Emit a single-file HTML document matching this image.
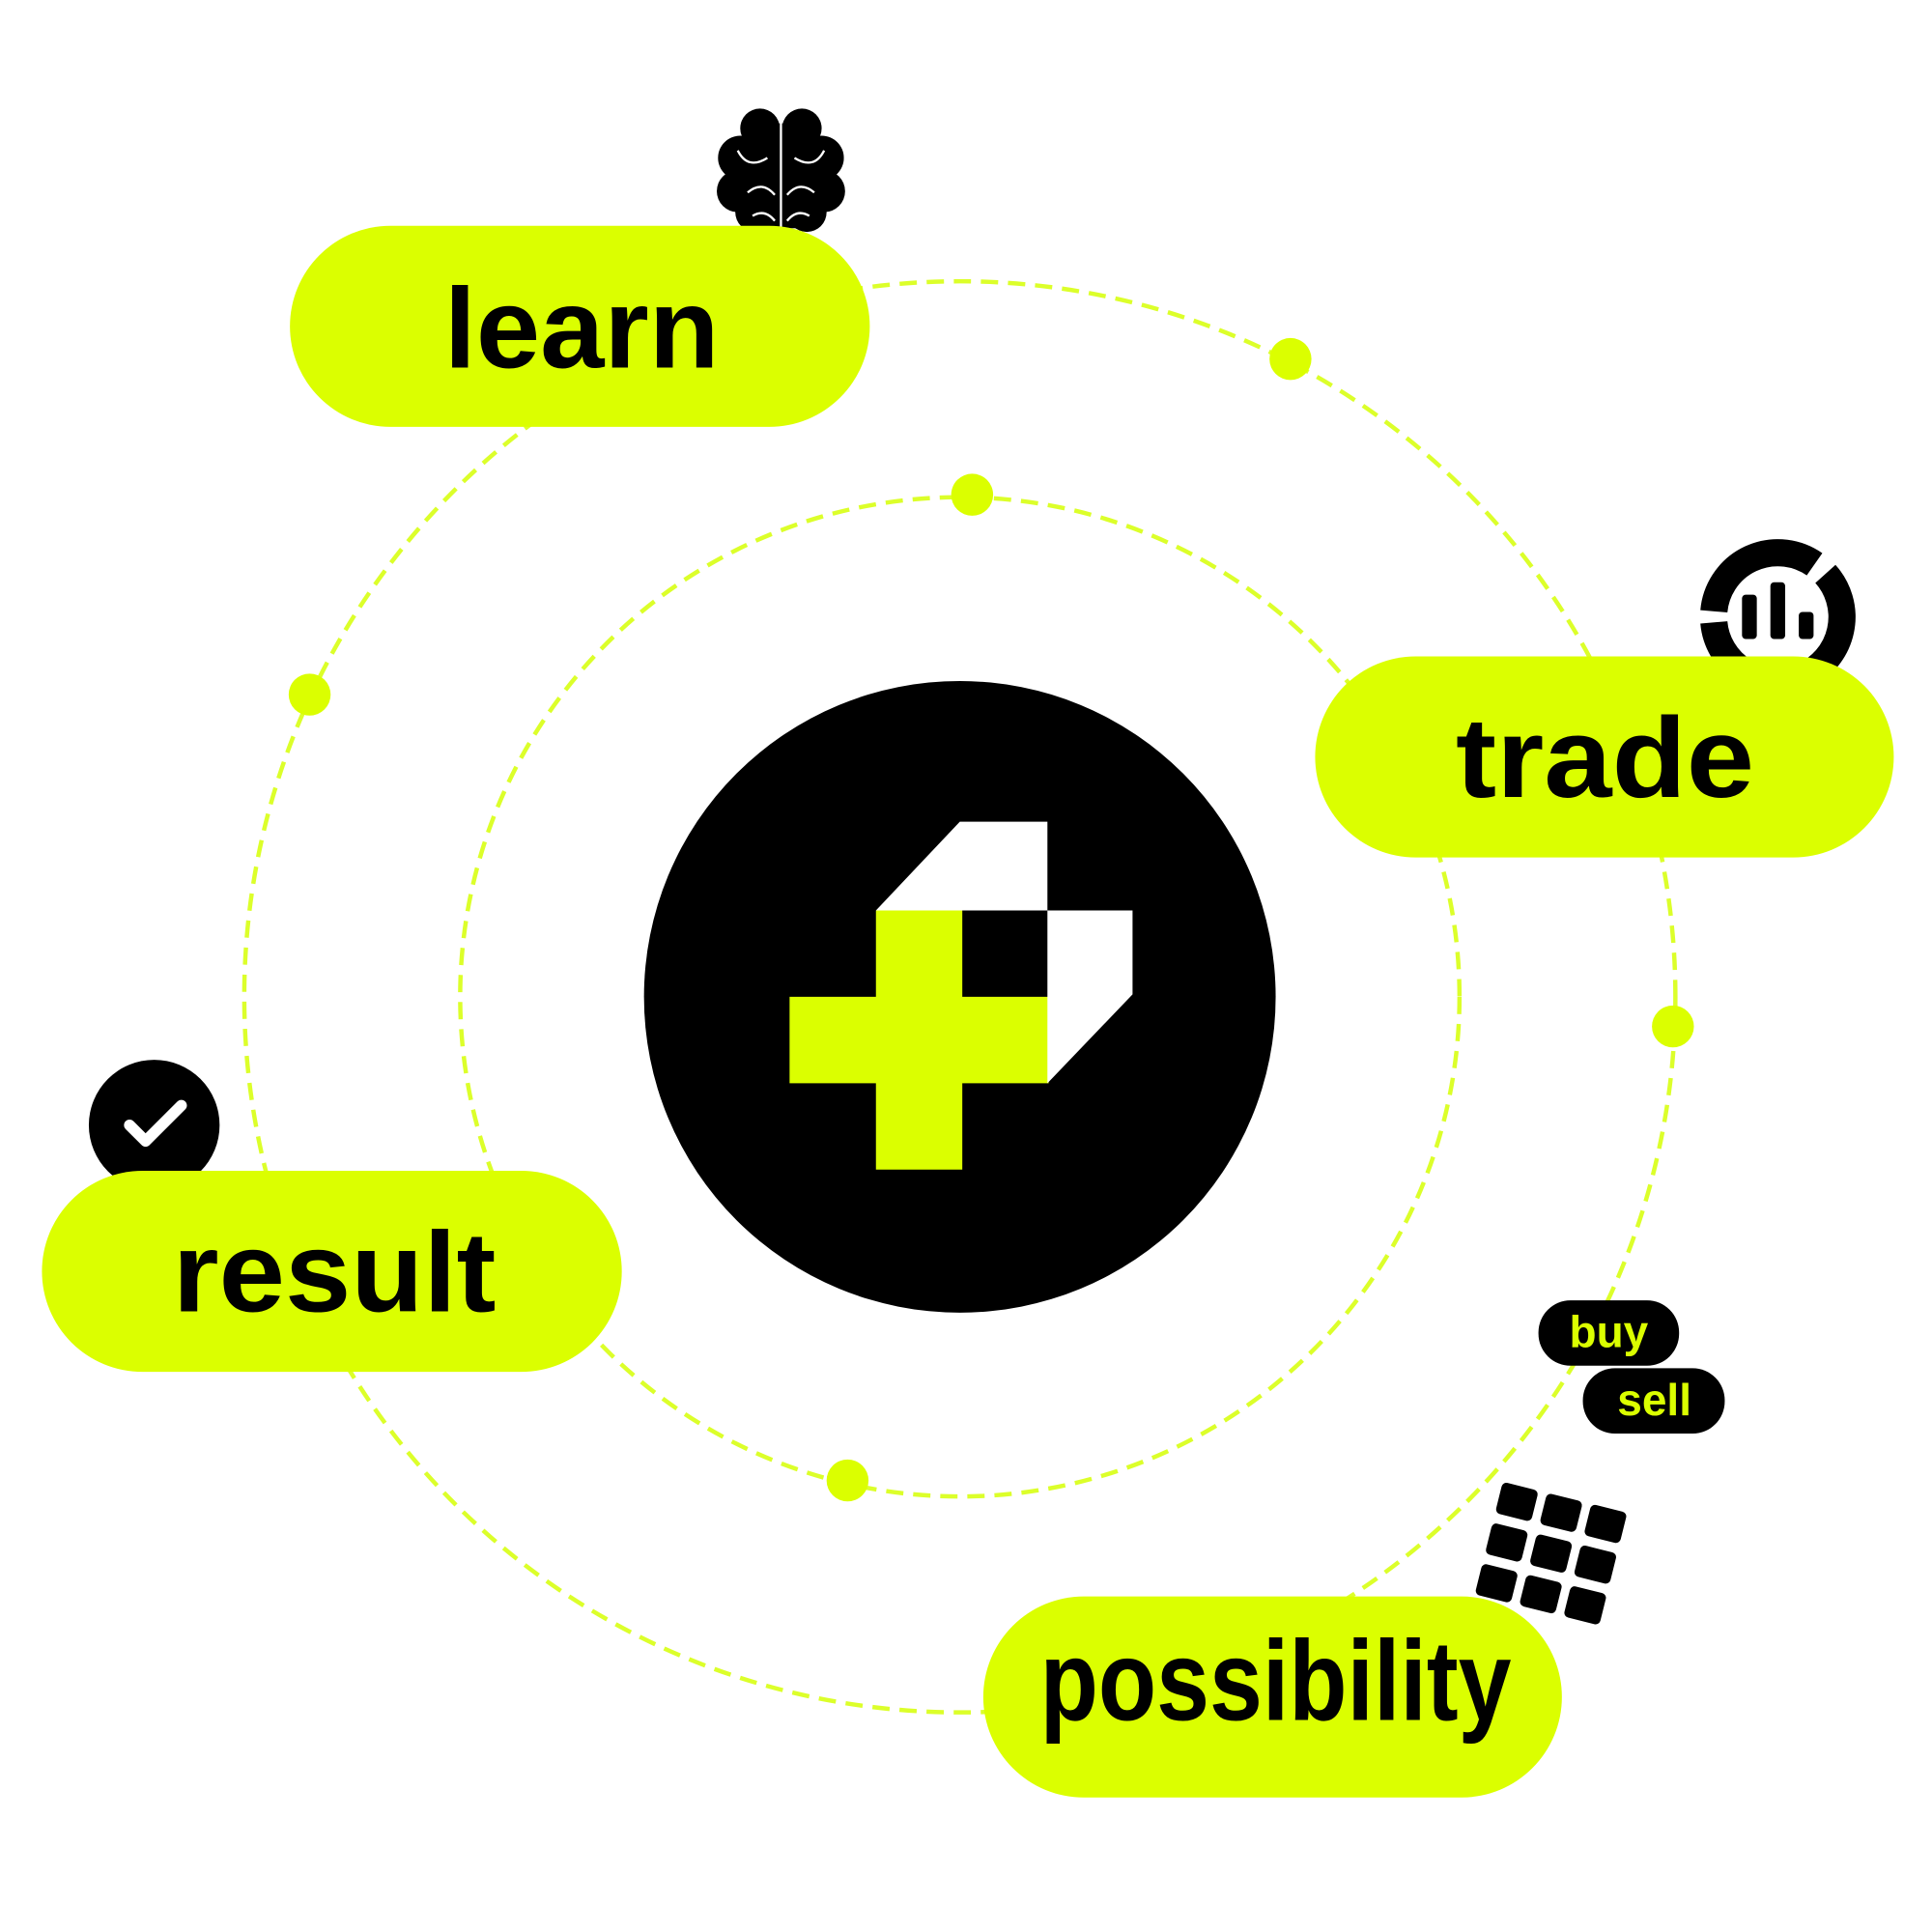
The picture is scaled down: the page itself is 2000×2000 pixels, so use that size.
<!DOCTYPE html>
<html><head><meta charset="utf-8"><style>html,body{margin:0;padding:0;background:#fff}svg{display:block}</style></head>
<body>
<svg width="2000" height="2000" viewBox="0 0 1566 1566" xmlns="http://www.w3.org/2000/svg">
<g fill="none" stroke="#dcff2a" stroke-width="3.5" stroke-dasharray="14 8">
<circle cx="778" cy="808" r="580"/>
<circle cx="778" cy="808" r="405"/>
</g>
<g fill="#dbff00">
<circle cx="1046" cy="291" r="17"/><circle cx="251" cy="563" r="17"/><circle cx="1356" cy="832" r="17"/>
<circle cx="788" cy="401" r="17"/><circle cx="687" cy="1200" r="17"/>
</g>
<circle cx="778" cy="808" r="256" fill="#000"/>
<path d="M710 738H780V808H850V878H780V948H710V878H640V808H710Z" fill="#dbff00"/>
<path d="M710 738L778 666H849V738Z" fill="#fff"/>
<path d="M849 738H918V806L849 878Z" fill="#fff"/>
<!-- brain -->
<g fill="#000">
<circle cx="616" cy="104" r="16"/><circle cx="650" cy="104" r="16"/>
<circle cx="600" cy="128" r="18"/><circle cx="666" cy="128" r="18"/>
<circle cx="598" cy="155" r="17"/><circle cx="668" cy="155" r="17"/>
<circle cx="612" cy="172" r="16"/><circle cx="654" cy="172" r="16"/>
<rect x="604" y="100" width="58" height="85"/>
</g>
<path d="M633 90V186M598 122q8 16 24 6M644 128q16 10 24-6M606 156q12-10 22 2M638 158q10-12 22-2M610 175q10-6 18 4M638 179q8-10 18-4" stroke="#fff" stroke-width="1.8" fill="none"/>
<!-- chart ring -->
<g fill="none" stroke="#000" stroke-width="22">
<path d="M1389.2 495.5 A52 52 0 0 1 1470.8 457.4"/>
<path d="M1479.6 465.2 A52 52 0 1 1 1389.2 504.5"/>
</g>
<rect x="1412" y="482" width="12" height="36" rx="3" fill="#000"/><rect x="1435" y="472" width="12" height="46" rx="3" fill="#000"/><rect x="1458" y="496" width="12" height="22" rx="3" fill="#000"/>
<!-- check -->
<circle cx="125" cy="912" r="53" fill="#000"/>
<path d="M105 912L118 925L147 896" stroke="#fff" stroke-width="9" fill="none" stroke-linecap="round" stroke-linejoin="round"/>
<!-- buy sell -->
<rect x="1247" y="1054" width="114" height="53" rx="26" fill="#000"/>
<text x="1304" y="1092" font-family="Liberation Sans, sans-serif" font-weight="bold" font-size="36" fill="#dbff00" text-anchor="middle">buy</text>
<rect x="1283" y="1109" width="115" height="53" rx="26" fill="#000"/>
<text x="1341" y="1147" font-family="Liberation Sans, sans-serif" font-weight="bold" font-size="36" fill="#dbff00" text-anchor="middle">sell</text>
<!-- grid -->
<g fill="#000" transform="rotate(14 1255 1268)">
<rect x="1203" y="1212" width="30" height="26" rx="4"/><rect x="1240" y="1212" width="30" height="26" rx="4"/><rect x="1277" y="1212" width="30" height="26" rx="4"/>
<rect x="1203" y="1246" width="30" height="26" rx="4"/><rect x="1240" y="1246" width="30" height="26" rx="4"/><rect x="1277" y="1246" width="30" height="26" rx="4"/>
<rect x="1203" y="1280" width="30" height="26" rx="4"/><rect x="1240" y="1280" width="30" height="26" rx="4"/><rect x="1277" y="1280" width="30" height="26" rx="4"/>
</g>
<!-- pills -->
<g fill="#dbff00">
<rect x="235" y="183" width="470" height="163" rx="81.5"/>
<rect x="1066" y="532" width="469" height="163" rx="81.5"/>
<rect x="34" y="949" width="470" height="163" rx="81.5"/>
<rect x="797" y="1294" width="469" height="163" rx="81.5"/>
</g>
<g font-family="Liberation Sans, sans-serif" font-weight="bold" font-size="92" fill="#000">
<text x="360" y="298" textLength="223" lengthAdjust="spacingAndGlyphs">learn</text>
<text x="1180" y="646" textLength="242" lengthAdjust="spacingAndGlyphs">trade</text>
<text x="140" y="1063" textLength="262" lengthAdjust="spacingAndGlyphs">result</text>
<text x="843" y="1394" textLength="382" lengthAdjust="spacingAndGlyphs">possibility</text>
</g>
</svg>
</body></html>
